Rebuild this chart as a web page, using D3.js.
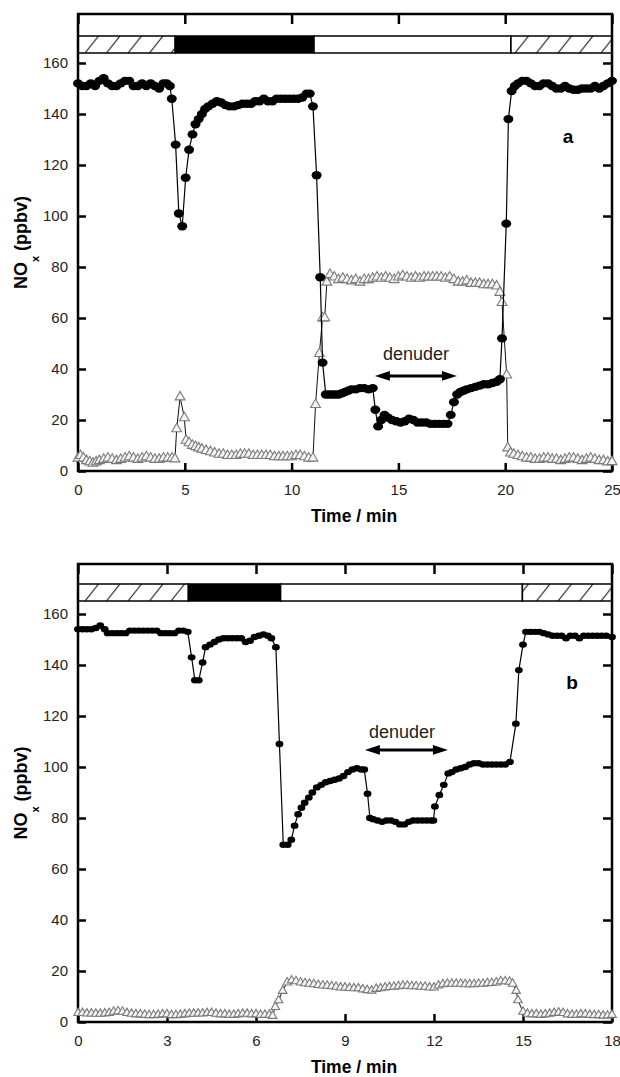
<!DOCTYPE html>
<html>
<head>
<meta charset="utf-8">
<script src="https://cdn.jsdelivr.net/npm/d3@7"></script>
<style>
  body { margin: 0; background: #fff; }
  svg { display: block; font-family: 'Liberation Sans', Arial, sans-serif; }
</style>
</head>
<body>
<div id="chart"></div>
<script>
// tick values
var yTicks = [0, 20, 40, 60, 80, 100, 120, 140, 160]
var timeTicksA = [0, 5, 10, 15, 20, 25]
var timeTicksB = [0, 3, 6, 9, 12, 15, 18]

// status bar on top: [from, to, kind]
var barA = [[0, 4.55, 'hatch'], [4.55, 11.05, 'black'], [11.05, 20.27, 'white'], [20.27, 25, 'hatch']]
var barB = [[0, 3.72, 'hatch'], [3.72, 6.83, 'black'], [6.83, 14.98, 'white'], [14.98, 18, 'hatch']]

// panel a, NOx (black circles) [time, ppbv]
var noxA = [[0,152],[0.2,151],[0.4,151],[0.6,152],[0.8,151],[1.0,153],[1.2,154],[1.4,152],[1.6,151],[1.8,151],
  [2.0,152],[2.2,153],[2.4,153],[2.6,151],[2.8,151],[3.0,152],[3.2,151],[3.4,152],[3.6,151],[3.8,150],
  [4.0,152],[4.15,152],[4.3,151],[4.39,146],[4.57,128],[4.72,101],[4.88,96],[5.04,115],[5.2,126],[5.36,132],
  [5.5,136],[5.65,138],[5.8,140],[5.95,142],[6.1,143],[6.3,144],[6.5,145],[6.7,144.5],[6.9,143.5],[7.1,143],
  [7.3,143],[7.5,143.5],[7.7,144],[7.9,144],[8.1,144],[8.3,145],[8.5,145],[8.7,146],[8.9,145],[9.1,145],
  [9.3,146],[9.5,146],[9.7,146],[9.9,146],[10.1,146],[10.3,146],[10.5,146.5],[10.7,148],[10.85,148],[11.0,143],
  [11.17,116],[11.34,76],[11.45,42.5],[11.6,30],[11.75,30],[11.9,30],[12.05,30],[12.2,30],[12.35,30.5],[12.5,31],
  [12.65,31.5],[12.8,32],[13.0,32],[13.2,32.5],[13.4,32.5],[13.6,32],[13.8,32.5],[13.92,24],[14.05,17.5],[14.2,20],
  [14.35,22],[14.5,21],[14.7,20],[14.9,19.5],[15.1,19],[15.3,19.5],[15.5,20.5],[15.7,20],[15.9,19],[16.1,19],
  [16.3,19],[16.5,18.5],[16.7,18.5],[16.9,18.5],[17.1,18.5],[17.3,18.5],[17.45,22],[17.6,27],[17.75,30],[17.9,31],
  [18.05,31.5],[18.2,32],[18.4,32.5],[18.6,33],[18.8,33.5],[19.0,34],[19.2,34],[19.4,34.5],[19.6,35],[19.75,36],
  [19.85,52],[20.05,97],[20.15,138],[20.3,149],[20.45,151],[20.6,152],[20.8,153],[21.0,153],[21.2,152],[21.4,151],
  [21.6,151],[21.8,152],[22.0,152],[22.2,151],[22.4,150],[22.6,150],[22.8,151],[23.0,150],[23.2,149.5],[23.4,149.5],
  [23.6,150],[23.8,150],[24.0,150],[24.2,151],[24.4,150],[24.6,151],[24.8,152],[25.0,153]]

// panel a, grey triangles [time, ppbv]
var triA = [[0,5],[0.12,6],[0.25,5],[0.4,4],[0.55,3.5],[0.7,3],[0.85,3.5],[1.0,4],[1.2,4.5],[1.4,5],
  [1.6,4.5],[1.8,4],[2.0,4.5],[2.2,5],[2.4,5.5],[2.6,5],[2.8,4.5],[3.0,5],[3.2,5.5],[3.4,5],
  [3.6,4.5],[3.8,4.5],[4.0,5],[4.2,5],[4.4,5],[4.54,4.7],[4.62,16.5],[4.78,29],[4.98,20.8],[5.06,12],
  [5.2,11],[5.35,10],[5.5,9.5],[5.65,9],[5.8,8.5],[6.0,8],[6.2,7.5],[6.4,7],[6.6,6.5],[6.8,6.5],
  [7.0,6],[7.2,6],[7.4,6],[7.6,6.5],[7.8,6.5],[8.0,6.5],[8.2,6],[8.4,6],[8.6,6],[8.8,6],
  [9.0,6],[9.2,5.5],[9.4,5.5],[9.6,5.5],[9.8,5.5],[10.0,5.5],[10.2,6],[10.4,6],[10.6,5.5],[10.8,5],
  [11.0,5],[11.12,26],[11.3,46],[11.45,60],[11.55,60],[11.65,74],[11.8,77],[12.0,76],[12.2,75],[12.4,75.5],
  [12.6,75],[12.8,74.5],[13.0,75],[13.2,74],[13.4,75],[13.6,75],[13.8,75.5],[14.0,76],[14.2,75.5],[14.4,76],
  [14.6,75.5],[14.8,75],[15.0,76],[15.2,76.5],[15.4,76],[15.6,75.5],[15.8,76],[16.0,75.5],[16.2,76],[16.4,76],
  [16.6,76],[16.8,76],[17.0,76],[17.2,75.5],[17.4,76],[17.6,75],[17.8,74],[18.0,74],[18.2,74.5],[18.4,73.5],
  [18.6,73.5],[18.8,73.5],[19.0,73],[19.2,73],[19.4,73],[19.6,72.5],[19.75,70],[19.85,66],[20.07,37.6],[20.12,9],
  [20.25,7],[20.4,6.5],[20.6,6],[20.8,5.5],[21.0,5],[21.2,5],[21.4,4.5],[21.6,4.5],[21.8,5],[22.0,5],
  [22.2,4.5],[22.4,4.5],[22.6,4],[22.8,4.5],[23.0,5],[23.2,5],[23.4,4.5],[23.6,4],[23.8,4.5],[24.0,5],
  [24.2,4.5],[24.4,4],[24.6,4],[24.8,3.5],[25.0,3.6]]

// panel b, NOx (black circles)
var noxB = [[0,154],[0.15,154],[0.3,154],[0.45,154],[0.6,154.5],[0.75,155.5],[0.9,154],[1.0,152.5],[1.15,152.5],[1.3,152.5],
  [1.45,152.5],[1.6,152.5],[1.75,153.5],[1.9,153.5],[2.05,153.5],[2.2,153.5],[2.35,153.5],[2.5,153.5],[2.65,153.5],[2.8,152.5],
  [2.95,152.5],[3.1,152.5],[3.25,152.5],[3.4,153.5],[3.55,153.5],[3.7,153],[3.83,143],[3.94,134],[4.07,134],[4.2,141],
  [4.3,147],[4.45,148],[4.6,149],[4.75,150],[4.9,150.5],[5.05,150.5],[5.2,150.5],[5.35,150.5],[5.5,150.5],[5.65,149],
  [5.8,149.5],[5.95,151],[6.1,151.5],[6.25,152],[6.4,151.5],[6.52,150.5],[6.67,147],[6.79,109],[6.92,69.5],[7.07,69.5],
  [7.19,71.5],[7.3,77],[7.42,81.5],[7.53,84],[7.64,86],[7.78,88],[7.9,90],[8.05,92],[8.2,93],[8.35,94],
  [8.5,94.5],[8.65,95],[8.8,95.5],[8.95,96.5],[9.1,98],[9.25,99],[9.4,99.5],[9.55,99],[9.65,99],[9.76,89.5],
  [9.84,80],[9.95,79.5],[10.1,79],[10.25,78.5],[10.4,79],[10.55,79],[10.7,78.5],[10.85,77.5],[11.0,77.5],[11.15,78.5],
  [11.3,79],[11.45,79],[11.6,79],[11.75,79],[11.9,79],[11.98,79],[12.03,84.5],[12.18,89],[12.33,93],[12.48,97.5],
  [12.6,98],[12.75,99],[12.9,99.5],[13.05,100],[13.2,101],[13.35,101.5],[13.5,101.5],[13.65,101],[13.8,101],[13.95,101],
  [14.1,101],[14.25,101],[14.4,101],[14.56,102],[14.76,117],[14.86,138],[15.0,148],[15.1,153],[15.25,153],[15.4,153],
  [15.55,153],[15.7,152.5],[15.85,152],[16.0,151.5],[16.15,151.5],[16.3,151.5],[16.45,150.5],[16.6,151.5],[16.75,151.5],[16.9,150.5],
  [17.05,151.5],[17.2,151.5],[17.35,151.5],[17.5,151.5],[17.65,151.5],[17.8,151.5],[18.0,151]]

// panel b, grey triangles
var triB = [[0,3.5],[0.15,3.5],[0.3,3.3],[0.45,3.3],[0.6,3.2],[0.75,3.2],[0.9,3.3],[1.05,3.5],[1.2,4],[1.35,4.2],
  [1.5,4],[1.65,3.5],[1.8,3.2],[1.95,3],[2.1,3],[2.25,2.8],[2.4,2.7],[2.55,2.7],[2.7,2.8],[2.85,3],
  [3.0,3],[3.15,2.7],[3.3,2.7],[3.45,2.8],[3.6,3],[3.75,3.2],[3.9,3.2],[4.05,3.3],[4.2,3.3],[4.35,3.5],
  [4.5,3.5],[4.65,3.2],[4.8,3],[4.95,3],[5.1,2.8],[5.25,2.8],[5.4,3],[5.55,3.2],[5.7,3.2],[5.85,3],
  [6.0,3],[6.15,2.8],[6.3,2.8],[6.45,2.8],[6.56,2.4],[6.65,5.9],[6.76,8.5],[6.9,12.2],[7.05,15.5],[7.2,16.3],
  [7.35,16],[7.5,15.5],[7.65,15.2],[7.8,15],[7.95,14.8],[8.1,14.5],[8.25,14.3],[8.4,14.2],[8.55,14],[8.7,13.8],
  [8.85,13.5],[9.0,13.5],[9.15,13.3],[9.3,13.2],[9.45,13.2],[9.6,12.8],[9.75,12.5],[9.9,12.3],[10.05,13],[10.2,13.2],
  [10.35,13.5],[10.5,13.7],[10.65,13.8],[10.8,14],[10.95,14.2],[11.1,14.2],[11.25,14],[11.4,14],[11.55,13.8],[11.7,13.8],
  [11.85,13.5],[12.0,13.5],[12.15,14.3],[12.3,14.8],[12.45,15],[12.6,15],[12.75,15],[12.9,15],[13.05,14.8],[13.2,14.8],
  [13.35,14.8],[13.5,15],[13.65,15],[13.8,15.2],[13.95,15.3],[14.1,15.5],[14.25,16],[14.4,16],[14.55,15.8],[14.65,15],
  [14.77,12.2],[14.83,8.5],[15.0,4],[15.15,3.2],[15.3,3],[15.45,3],[15.6,2.8],[15.75,3],[15.9,3.2],[16.05,3.5],
  [16.2,3.7],[16.35,3.5],[16.5,3],[16.65,2.8],[16.8,2.8],[16.95,3],[17.1,3],[17.25,2.8],[17.4,2.7],[17.55,2.7],
  [17.7,2.5],[17.85,2.5],[18.0,2.8]]

// denuder arrows: [from, to, level], text anchor [time, ppbv]
var denuderA = [13.9, 17.74, 37.3]
var denuderTextA = [15.82, 43.5]
var denuderB = [9.67, 12.47, 106.7]
var denuderTextB = [10.92, 111.4]
var panelLabelA = [22.94, 128.6]
var panelLabelB = [16.65, 130.6]

var svg = d3.select('#chart')
  .append('svg')
  .attr('width', 620)
  .attr('height', 1077)

var defs = svg.append('defs')

function drawPanel(p) {
  var x = d3.scaleLinear().domain([0, p.xMax]).range([78, 612])
  var y = d3.scaleLinear().domain([0, 160]).range([p.bottom, p.bottom - 408])
  var g = svg.append('g')
  var barH = p.barBot - p.barTop

  // hatch for the status bar
  var pat = defs.append('pattern')
    .attr('id', 'hatch-' + p.name)
    .attr('patternUnits', 'userSpaceOnUse')
    .attr('x', 80)
    .attr('y', p.barTop)
    .attr('width', 21.5)
    .attr('height', barH)
  pat.append('rect').attr('width', 21.5).attr('height', barH).attr('fill', '#fff')
  pat.append('line')
    .attr('x1', 5).attr('y1', barH)
    .attr('x2', 18.5).attr('y2', 0)
    .attr('stroke', '#000')
    .attr('stroke-width', 1)

  g.selectAll('.seg')
    .data(p.bar)
    .enter()
    .append('rect')
    .attr('x', d => x(d[0]))
    .attr('width', d => x(d[1]) - x(d[0]))
    .attr('y', p.barTop)
    .attr('height', barH)
    .attr('fill', d => d[2] === 'hatch' ? 'url(#hatch-' + p.name + ')' : (d[2] === 'black' ? '#000' : '#fff'))
    .attr('stroke', '#000')
    .attr('stroke-width', 1.5)

  // axes, ticks pointing inward
  var axes = g.append('g').attr('class', 'axes')
  axes.append('g')
    .attr('transform', 'translate(0,' + p.bottom + ')')
    .call(d3.axisBottom(x).tickValues(p.ticks).tickSize(-8).tickPadding(13.5))
  axes.append('g')
    .attr('transform', 'translate(0,' + p.top + ')')
    .call(d3.axisTop(x).tickValues(p.ticks).tickSize(-10).tickFormat(''))
  axes.append('g')
    .attr('transform', 'translate(78,0)')
    .call(d3.axisLeft(y).tickValues(yTicks).tickSize(-8).tickPadding(10))
  axes.append('g')
    .attr('transform', 'translate(612,0)')
    .call(d3.axisRight(y).tickValues(yTicks).tickSize(-9).tickFormat(''))
  axes.selectAll('.domain').remove()
  axes.selectAll('.tick line').attr('stroke', '#000').attr('stroke-width', 2.5)
  axes.selectAll('.tick text')
    .attr('font-size', 15)
    .attr('fill', '#222')
    .attr('font-family', "'Liberation Sans', Arial, sans-serif")

  // frame
  g.append('rect')
    .attr('x', 78)
    .attr('y', p.top)
    .attr('width', 534)
    .attr('height', p.bottom - p.top)
    .attr('fill', 'none')
    .attr('stroke', '#000')
    .attr('stroke-width', 2.5)

  var line = d3.line().x(d => x(d[0])).y(d => y(d[1]))

  // grey triangles series
  g.append('path')
    .datum(p.tri)
    .attr('d', line)
    .attr('fill', 'none')
    .attr('stroke', '#111')
    .attr('stroke-width', 1)
  g.selectAll('.tri')
    .data(p.tri)
    .enter()
    .append('path')
    .attr('class', 'tri')
    .attr('transform', d => 'translate(' + x(d[0]) + ',' + y(d[1]) + ')')
    .attr('d', d3.symbol(d3.symbolTriangle, p.triSize))
    .attr('fill', '#f4f4f4')
    .attr('stroke', '#7a7a7a')
    .attr('stroke-width', 1.1)

  // NOx series
  g.append('path')
    .datum(p.nox)
    .attr('d', line)
    .attr('fill', 'none')
    .attr('stroke', '#000')
    .attr('stroke-width', 1.2)
  g.selectAll('.dot')
    .data(p.nox)
    .enter()
    .append('ellipse')
    .attr('class', 'dot')
    .attr('cx', d => x(d[0]))
    .attr('cy', d => y(d[1]))
    .attr('rx', p.rx)
    .attr('ry', p.ry)
    .attr('fill', '#000')

  // denuder arrow
  var ax1 = x(p.den[0])
  var ax2 = x(p.den[1])
  var ay = y(p.den[2])
  g.append('line')
    .attr('x1', ax1 + 10).attr('x2', ax2 - 10)
    .attr('y1', ay).attr('y2', ay)
    .attr('stroke', '#000')
    .attr('stroke-width', 3)
  g.append('path')
    .attr('d', 'M' + ax1 + ',' + ay + 'L' + (ax1 + 15) + ',' + (ay - 4.8) + 'L' + (ax1 + 15) + ',' + (ay + 4.8) + 'Z')
    .attr('fill', '#000')
  g.append('path')
    .attr('d', 'M' + ax2 + ',' + ay + 'L' + (ax2 - 15) + ',' + (ay - 4.8) + 'L' + (ax2 - 15) + ',' + (ay + 4.8) + 'Z')
    .attr('fill', '#000')
  g.append('text')
    .attr('x', x(p.denText[0]))
    .attr('y', y(p.denText[1]))
    .attr('text-anchor', 'middle')
    .attr('font-size', 18)
    .attr('fill', '#222')
    .text('denuder')

  // panel letter
  g.append('text')
    .attr('x', x(p.letter[0]))
    .attr('y', y(p.letter[1]))
    .attr('text-anchor', 'middle')
    .attr('font-size', 19)
    .attr('font-weight', 'bold')
    .text(p.name)

  // axis titles
  g.append('text')
    .attr('x', 354)
    .attr('y', p.bottom + 51)
    .attr('text-anchor', 'middle')
    .attr('font-size', 17.5)
    .attr('font-weight', 'bold')
    .text('Time / min')

  var yt = g.append('text')
    .attr('transform', 'translate(27,' + (p.top + p.bottom) / 2 + ') rotate(-90)')
    .attr('text-anchor', 'middle')
    .attr('font-size', 18)
    .attr('font-weight', 'bold')
  yt.append('tspan').text('NO')
  yt.append('tspan').attr('dy', 12).attr('font-size', 11).text('x')
  yt.append('tspan').attr('dy', -12).text(' (ppbv)')
}

drawPanel({
  name: 'a', xMax: 25, ticks: timeTicksA, top: 14, barTop: 36, barBot: 53, bottom: 471,
  bar: barA, nox: noxA, tri: triA, den: denuderA, denText: denuderTextA, letter: panelLabelA,
  rx: 5, ry: 4.2, triSize: 42
})

drawPanel({
  name: 'b', xMax: 18, ticks: timeTicksB, top: 564, barTop: 584, barBot: 601, bottom: 1022,
  bar: barB, nox: noxB, tri: triB, den: denuderB, denText: denuderTextB, letter: panelLabelB,
  rx: 3.9, ry: 3.2, triSize: 32
})
</script>
</body>
</html>
